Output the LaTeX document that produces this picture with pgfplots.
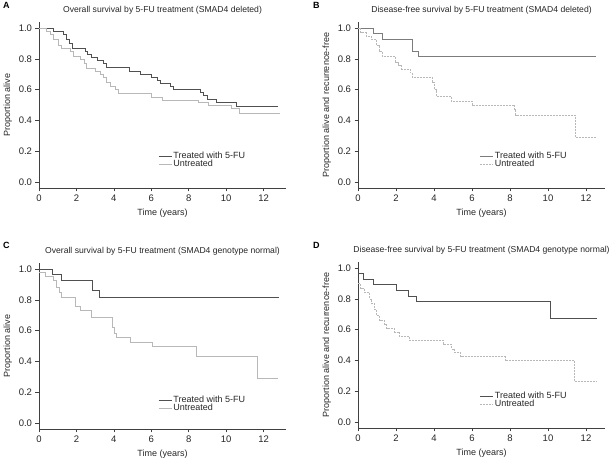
\documentclass[border=0pt]{standalone}
\usepackage{pgfplots}
\pgfplotsset{compat=1.18}
\usepackage{fontspec}
\setmainfont{Liberation Sans}
\definecolor{trt}{HTML}{505050}
\definecolor{unt}{HTML}{B8B8B8}
\pgfplotsset{
  km/.style={
    scale only axis, width=247pt, height=166pt,
    xmin=0, xmax=13.2, ymin=-0.04, ymax=1.04,
    axis x line*=bottom, axis y line*=left,
    axis line style={-, black!75, line width=0.5pt},
    tick align=outside,
    tick style={black!75, line width=0.5pt},
    major tick length=3.5pt,
    xtick={0,2,...,12}, ytick={0,0.2,0.4,0.6,0.8,1.0},
    yticklabel style={/pgf/number format/.cd, fixed, fixed zerofill, precision=1},
    /pgf/number format/assume math mode=true,
    tick label style={font=\fontsize{9.5}{10}\selectfont, black!85},
    label style={font=\fontsize{9}{10}\selectfont, black!85},
    title style={font=\fontsize{8.6}{10}\selectfont, black!85, yshift=-2pt},
    xlabel={Time (years)},
    legend cell align=left,
    legend style={draw=none, fill=none, anchor=north west,
      font=\fontsize{9}{10}\selectfont, row sep=-3pt,
      nodes={inner sep=1.5pt, text=black!85}},
    legend image code/.code={\draw[#1] (0pt,0pt) -- (13pt,0pt);},
    clip=false,
  },
  tr/.style={const plot, trt, line width=0.6pt},
  un/.style={const plot, unt, line width=0.6pt},
  und/.style={const plot, unt, line width=0.6pt, dash pattern=on 2pt off 1pt},
}
\begin{document}
\begin{tikzpicture}
\useasboundingbox (0,0) rectangle (615pt,462pt);
% ---------- A ----------
\begin{axis}[km, at={(39pt,274pt)}, anchor=south west,
  title={Overall survival by 5-FU treatment (SMAD4 deleted)},
  ylabel={Proportion alive},
  legend style={at={(rel axis cs:0.47,0.24)}}]
\addplot[tr] coordinates {(0,1.0) (0.77,0.98) (1.3,0.96) (1.45,0.93) (1.6,0.90) (1.8,0.87) (2.46,0.85) (2.6,0.83) (2.8,0.81) (3.1,0.79) (3.45,0.77) (3.6,0.745) (4.8,0.72) (5.4,0.70) (6.0,0.68) (6.3,0.66) (6.5,0.64) (7.0,0.62) (7.2,0.60) (8.6,0.58) (8.8,0.56) (9.0,0.54) (9.5,0.52) (10.55,0.49) (12.75,0.49)};
\addlegendentry{Treated with 5-FU}
\addplot[un] coordinates {(0,1.0) (0.4,0.98) (0.6,0.96) (0.77,0.93) (1.03,0.89) (1.2,0.87) (1.66,0.85) (1.85,0.82) (2.2,0.80) (2.4,0.77) (2.55,0.74) (3.0,0.72) (3.3,0.70) (3.45,0.68) (3.6,0.65) (3.8,0.62) (4.07,0.60) (4.25,0.575) (6.0,0.55) (6.6,0.53) (8.5,0.52) (9.07,0.50) (10.25,0.48) (10.7,0.445) (12.9,0.445)};
\addlegendentry{Untreated}
\end{axis}
% ---------- B ----------
\begin{axis}[km, at={(358pt,274pt)}, anchor=south west, xmax=13.0,
  title={Disease-free survival by 5-FU treatment (SMAD4 deleted)},
  ylabel={Proportion alive and recurrence-free},
  legend style={at={(rel axis cs:0.48,0.24)}}]
\addplot[tr, trt!75] coordinates {(0,1.0) (0.79,0.965) (1.27,0.925) (2.85,0.85) (3.16,0.82) (12.55,0.82)};
\addlegendentry{Treated with 5-FU}
\addplot[und] coordinates {(0,1.0) (0.14,0.97) (0.44,0.95) (0.7,0.93) (0.97,0.89) (1.1,0.85) (1.27,0.815) (1.95,0.78) (2.1,0.76) (2.3,0.735) (2.75,0.71) (2.85,0.68) (3.9,0.65) (4.0,0.60) (4.12,0.555) (4.9,0.525) (6.0,0.50) (8.25,0.47) (8.3,0.435) (11.45,0.29) (12.55,0.29)};
\addlegendentry{Untreated}
\end{axis}
% ---------- C ----------
\begin{axis}[km, at={(39pt,33pt)}, anchor=south west,
  title={Overall survival by 5-FU treatment (SMAD4 genotype normal)},
  ylabel={Proportion alive},
  legend style={at={(rel axis cs:0.47,0.22)}}]
\addplot[tr] coordinates {(0,1.0) (0.73,0.965) (1.21,0.93) (2.87,0.86) (3.23,0.82) (12.8,0.82)};
\addlegendentry{Treated with 5-FU}
\addplot[un] coordinates {(0,0.98) (0.32,0.955) (0.77,0.93) (0.95,0.88) (1.1,0.85) (1.21,0.815) (1.95,0.76) (2.23,0.735) (2.8,0.685) (3.9,0.62) (4.0,0.58) (4.12,0.555) (4.9,0.525) (6.03,0.50) (8.4,0.435) (11.65,0.29) (12.76,0.29)};
\addlegendentry{Untreated}
\end{axis}
% ---------- D ----------
\begin{axis}[km, at={(358pt,34pt)}, anchor=south west, xmax=13.0,
  title={Disease-free survival by 5-FU treatment (SMAD4 genotype normal)},
  ylabel={Proportion alive and recurrence-free},
  legend style={at={(rel axis cs:0.48,0.24)}}]
\addplot[tr] coordinates {(0,0.965) (0.3,0.93) (0.79,0.895) (2.02,0.855) (2.67,0.82) (3.08,0.785) (10.14,0.675) (12.57,0.675)};
\addlegendentry{Treated with 5-FU}
\addplot[und] coordinates {(0,0.90) (0.14,0.87) (0.35,0.84) (0.6,0.80) (0.7,0.77) (0.88,0.73) (0.97,0.69) (1.14,0.66) (1.4,0.635) (1.5,0.61) (1.9,0.585) (2.16,0.555) (2.72,0.53) (4.48,0.505) (4.92,0.475) (5.06,0.45) (5.41,0.425) (7.73,0.40) (11.39,0.265) (12.57,0.265)};
\addlegendentry{Untreated}
\end{axis}
% panel letters
\node[anchor=north west, inner sep=0pt, font=\bfseries\fontsize{9}{10}\selectfont] at (3pt,460pt) {A};
\node[anchor=north west, inner sep=0pt, font=\bfseries\fontsize{9}{10}\selectfont] at (313pt,460pt) {B};
\node[anchor=north west, inner sep=0pt, font=\bfseries\fontsize{9}{10}\selectfont] at (3pt,220pt) {C};
\node[anchor=north west, inner sep=0pt, font=\bfseries\fontsize{9}{10}\selectfont] at (313pt,220pt) {D};
\end{tikzpicture}
\end{document}
